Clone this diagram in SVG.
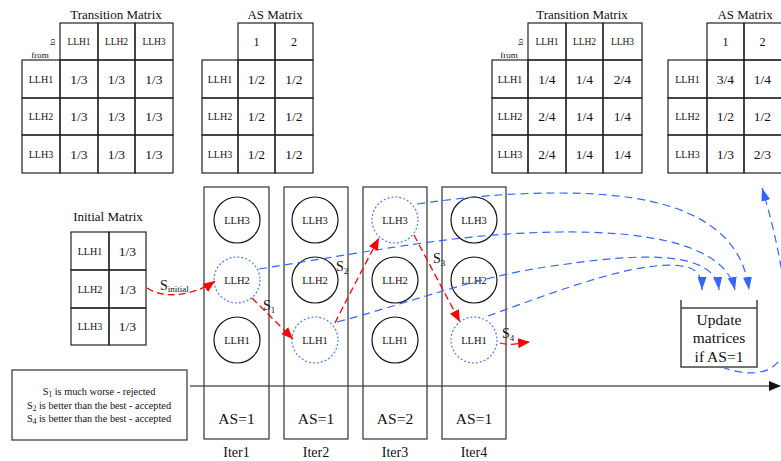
<svg xmlns="http://www.w3.org/2000/svg" width="781" height="461" viewBox="0 0 781 461">
<style>
.c{fill:none;stroke:#222;stroke-width:1.2}
.t{font-family:"Liberation Serif",serif;fill:#111}
.ttl{font-size:13px;text-anchor:middle}
.h{font-size:9.5px;text-anchor:middle}
.rl{font-size:10px;text-anchor:middle}
.f{font-family:"Liberation Serif",serif;font-size:13.5px;text-anchor:middle;fill:#111}
.circ{fill:none;stroke:#111;stroke-width:1.2}
.sel{fill:none;stroke:#4a7cff;stroke-width:1.2;stroke-dasharray:2,2}
.cl{font-size:10.5px;text-anchor:middle}
.blue{fill:none;stroke:#3366ff;stroke-width:1.2;stroke-dasharray:8,5}
.red{fill:none;stroke:#ff0000;stroke-width:1.3;stroke-dasharray:7,4}
.col{fill:none;stroke:#333;stroke-width:1.2}
.as{font-family:"Liberation Serif",serif;font-size:15.5px;text-anchor:middle;fill:#111}
.it{font-size:14px;text-anchor:middle}
.s{font-size:14px}
.sub{font-size:9px}
.lg{font-size:10.3px}
</style>
<defs>
<marker id="ar" markerUnits="userSpaceOnUse" viewBox="0 0 12 10" refX="12" refY="5" markerWidth="12" markerHeight="10" orient="auto"><path d="M0,0 L12,5 L0,10 z" fill="#ff0000"/></marker>
<marker id="ab" markerUnits="userSpaceOnUse" viewBox="0 0 13 9" refX="13" refY="4.5" markerWidth="13" markerHeight="9" orient="auto"><path d="M0,0 L13,4.5 L0,9 z" fill="#3366ff"/></marker>
</defs>

<g id="transition-matrix-1">
<text class="t ttl" x="116" y="19">Transition Matrix</text>
<rect class="c" x="60" y="23" width="38" height="37"/><rect class="c" x="98" y="23" width="37" height="37"/><rect class="c" x="135" y="23" width="38" height="37"/>
<rect class="c" x="22" y="60" width="38" height="38"/><rect class="c" x="60" y="60" width="38" height="38"/><rect class="c" x="98" y="60" width="37" height="38"/><rect class="c" x="135" y="60" width="38" height="38"/>
<rect class="c" x="22" y="98" width="38" height="37"/><rect class="c" x="60" y="98" width="38" height="37"/><rect class="c" x="98" y="98" width="37" height="37"/><rect class="c" x="135" y="98" width="38" height="37"/>
<rect class="c" x="22" y="135" width="38" height="38"/><rect class="c" x="60" y="135" width="38" height="38"/><rect class="c" x="98" y="135" width="37" height="38"/><rect class="c" x="135" y="135" width="38" height="38"/>
<text class="t" font-size="8.5" transform="translate(55,42) rotate(-90)" text-anchor="middle">to</text>
<text class="t" font-size="9" x="40" y="58" text-anchor="middle">from</text>
<text class="t h" x="79" y="45">LLH1</text><text class="t h" x="116.5" y="45">LLH2</text><text class="t h" x="154" y="45">LLH3</text>
<text class="t rl" x="41" y="83">LLH1</text><text class="t rl" x="41" y="120">LLH2</text><text class="t rl" x="41" y="158">LLH3</text>
<text class="f" x="79" y="84">1/3</text><text class="f" x="116.5" y="84">1/3</text><text class="f" x="154" y="84">1/3</text>
<text class="f" x="79" y="121">1/3</text><text class="f" x="116.5" y="121">1/3</text><text class="f" x="154" y="121">1/3</text>
<text class="f" x="79" y="159">1/3</text><text class="f" x="116.5" y="159">1/3</text><text class="f" x="154" y="159">1/3</text>
</g>

<g id="as-matrix-1">
<text class="t ttl" x="275" y="19">AS Matrix</text>
<rect class="c" x="238" y="23" width="37" height="37"/><rect class="c" x="275" y="23" width="38" height="37"/>
<rect class="c" x="202" y="60" width="36" height="38"/><rect class="c" x="238" y="60" width="37" height="38"/><rect class="c" x="275" y="60" width="38" height="38"/>
<rect class="c" x="202" y="98" width="36" height="37"/><rect class="c" x="238" y="98" width="37" height="37"/><rect class="c" x="275" y="98" width="38" height="37"/>
<rect class="c" x="202" y="135" width="36" height="38"/><rect class="c" x="238" y="135" width="37" height="38"/><rect class="c" x="275" y="135" width="38" height="38"/>
<text class="t" font-size="12" text-anchor="middle" x="256.5" y="46">1</text><text class="t" font-size="12" text-anchor="middle" x="294" y="46">2</text>
<text class="t rl" x="220" y="83">LLH1</text><text class="t rl" x="220" y="120">LLH2</text><text class="t rl" x="220" y="158">LLH3</text>
<text class="f" x="256.5" y="84">1/2</text><text class="f" x="294" y="84">1/2</text>
<text class="f" x="256.5" y="121">1/2</text><text class="f" x="294" y="121">1/2</text>
<text class="f" x="256.5" y="159">1/2</text><text class="f" x="294" y="159">1/2</text>
</g>

<g id="transition-matrix-2">
<text class="t ttl" x="582" y="19">Transition Matrix</text>
<rect class="c" x="528" y="23" width="38" height="37"/><rect class="c" x="566" y="23" width="37" height="37"/><rect class="c" x="603" y="23" width="39" height="37"/>
<rect class="c" x="492" y="60" width="36" height="38"/><rect class="c" x="528" y="60" width="38" height="38"/><rect class="c" x="566" y="60" width="37" height="38"/><rect class="c" x="603" y="60" width="39" height="38"/>
<rect class="c" x="492" y="98" width="36" height="37"/><rect class="c" x="528" y="98" width="38" height="37"/><rect class="c" x="566" y="98" width="37" height="37"/><rect class="c" x="603" y="98" width="39" height="37"/>
<rect class="c" x="492" y="135" width="36" height="38"/><rect class="c" x="528" y="135" width="38" height="38"/><rect class="c" x="566" y="135" width="37" height="38"/><rect class="c" x="603" y="135" width="39" height="38"/>
<text class="t" font-size="8.5" transform="translate(523,42) rotate(-90)" text-anchor="middle">to</text>
<text class="t" font-size="9" x="509" y="58" text-anchor="middle">from</text>
<text class="t h" x="547" y="45">LLH1</text><text class="t h" x="584.5" y="45">LLH2</text><text class="t h" x="622.5" y="45">LLH3</text>
<text class="t rl" x="510" y="83">LLH1</text><text class="t rl" x="510" y="120">LLH2</text><text class="t rl" x="510" y="158">LLH3</text>
<text class="f" x="547" y="84">1/4</text><text class="f" x="584.5" y="84">1/4</text><text class="f" x="622.5" y="84">2/4</text>
<text class="f" x="547" y="121">2/4</text><text class="f" x="584.5" y="121">1/4</text><text class="f" x="622.5" y="121">1/4</text>
<text class="f" x="547" y="159">2/4</text><text class="f" x="584.5" y="159">1/4</text><text class="f" x="622.5" y="159">1/4</text>
</g>

<g id="as-matrix-2">
<text class="t ttl" x="745" y="19">AS Matrix</text>
<rect class="c" x="707" y="23" width="37" height="37"/><rect class="c" x="744" y="23" width="38" height="37"/>
<rect class="c" x="668" y="60" width="39" height="38"/><rect class="c" x="707" y="60" width="37" height="38"/><rect class="c" x="744" y="60" width="38" height="38"/>
<rect class="c" x="668" y="98" width="39" height="37"/><rect class="c" x="707" y="98" width="37" height="37"/><rect class="c" x="744" y="98" width="38" height="37"/>
<rect class="c" x="668" y="135" width="39" height="38"/><rect class="c" x="707" y="135" width="37" height="38"/><rect class="c" x="744" y="135" width="38" height="38"/>
<text class="t" font-size="12" text-anchor="middle" x="725.5" y="46">1</text><text class="t" font-size="12" text-anchor="middle" x="762.5" y="46">2</text>
<text class="t rl" x="687.5" y="83">LLH1</text><text class="t rl" x="687.5" y="120">LLH2</text><text class="t rl" x="687.5" y="158">LLH3</text>
<text class="f" x="725.5" y="84">3/4</text><text class="f" x="762.5" y="84">1/4</text>
<text class="f" x="725.5" y="121">1/2</text><text class="f" x="762.5" y="121">1/2</text>
<text class="f" x="725.5" y="159">1/3</text><text class="f" x="762.5" y="159">2/3</text>
</g>

<g id="initial-matrix">
<text class="t ttl" x="108" y="221">Initial Matrix</text>
<rect class="c" x="71" y="232" width="38" height="38"/><rect class="c" x="109" y="232" width="37" height="38"/>
<rect class="c" x="71" y="270" width="38" height="38"/><rect class="c" x="109" y="270" width="37" height="38"/>
<rect class="c" x="71" y="308" width="38" height="37"/><rect class="c" x="109" y="308" width="37" height="37"/>
<text class="t rl" x="90" y="255">LLH1</text><text class="t rl" x="90" y="293">LLH2</text><text class="t rl" x="90" y="330">LLH3</text>
<text class="f" x="127.5" y="256">1/3</text><text class="f" x="127.5" y="294">1/3</text><text class="f" x="127.5" y="331">1/3</text>
</g>

<g id="timeline">
<line x1="190" y1="386" x2="771" y2="386" stroke="#111" stroke-width="1.2"/>
<path d="M769,381 L781,386 L769,391 z" fill="#111"/>
</g>

<g id="iter1">
<rect class="col" x="204" y="187" width="65" height="252"/>
<circle class="circ" cx="237" cy="220" r="23"/><text class="t cl" x="237" y="224">LLH3</text>
<circle class="sel" cx="237" cy="280" r="23"/><text class="t cl" x="237" y="284">LLH2</text>
<circle class="circ" cx="237" cy="340" r="23"/><text class="t cl" x="237" y="344">LLH1</text>
<text class="as" x="236.5" y="424">AS=1</text>
<text class="t it" x="236.5" y="457">Iter1</text>
</g>
<g id="iter2">
<rect class="col" x="284" y="187" width="64" height="252"/>
<circle class="circ" cx="315" cy="220" r="23"/><text class="t cl" x="315" y="224">LLH3</text>
<circle class="circ" cx="315" cy="280" r="23"/><text class="t cl" x="315" y="284">LLH2</text>
<circle class="sel" cx="315" cy="340" r="23"/><text class="t cl" x="315" y="344">LLH1</text>
<text class="as" x="316" y="424">AS=1</text>
<text class="t it" x="316" y="457">Iter2</text>
</g>
<g id="iter3">
<rect class="col" x="363" y="187" width="64" height="252"/>
<circle class="sel" cx="395" cy="220" r="23"/><text class="t cl" x="395" y="224">LLH3</text>
<circle class="circ" cx="395" cy="280" r="23"/><text class="t cl" x="395" y="284">LLH2</text>
<circle class="circ" cx="395" cy="340" r="23"/><text class="t cl" x="395" y="344">LLH1</text>
<text class="as" x="395" y="424">AS=2</text>
<text class="t it" x="395" y="457">Iter3</text>
</g>
<g id="iter4">
<rect class="col" x="442" y="187" width="64" height="252"/>
<circle class="circ" cx="474" cy="220" r="23"/><text class="t cl" x="474" y="224">LLH3</text>
<circle class="circ" cx="474" cy="280" r="23"/><text class="t cl" x="474" y="284">LLH2</text>
<circle class="sel" cx="474" cy="340" r="23"/><text class="t cl" x="474" y="344">LLH1</text>
<text class="as" x="474" y="424">AS=1</text>
<text class="t it" x="474" y="457">Iter4</text>
</g>

<g id="update">
<path d="M681,300 V367 H757 V300 M681,308 H757" fill="none" stroke="#444" stroke-width="1.5"/>
<text class="t" font-size="15.5" text-anchor="middle" x="719" y="325">Update</text>
<text class="t" font-size="15.5" text-anchor="middle" x="719" y="343">matrices</text>
<text class="t" font-size="15.5" text-anchor="middle" x="719" y="362">if AS=1</text>
</g>

<g id="legend">
<rect x="12" y="370" width="175" height="70" fill="none" stroke="#333" stroke-width="1.2"/>
<text class="t lg" x="99" y="395" text-anchor="middle">S<tspan font-size="7.5" dy="2">1</tspan><tspan dy="-2"> is much worse - rejected</tspan></text>
<text class="t lg" x="99" y="409" text-anchor="middle">S<tspan font-size="7.5" dy="2">2</tspan><tspan dy="-2"> is better than the best - accepted</tspan></text>
<text class="t lg" x="99" y="422" text-anchor="middle">S<tspan font-size="7.5" dy="2">4</tspan><tspan dy="-2"> is better than the best - accepted</tspan></text>
</g>

<g id="connectors">
<path class="blue" d="M417,204 C480,195 520,193 560,193 C660,193 740,215 749,290" marker-end="url(#ab)"/>
<path class="blue" d="M259,269 C380,250 460,233 560,232 C650,231 725,245 735,290" marker-end="url(#ab)"/>
<path class="blue" d="M337,322 C420,300 480,275 560,265 C640,253 715,250 719,290" marker-end="url(#ab)"/>
<path class="blue" d="M488,316 C560,290 650,255 690,268 C700,272 702,280 702,290" marker-end="url(#ab)"/>
<path class="blue" d="M722,367 C745,376 775,378 785,350 C792,310 778,240 762,188" marker-end="url(#ab)"/>
<path class="red" d="M147,288 C165,300 195,295 215,281" marker-end="url(#ar)"/>
<path class="red" d="M252,298 L293,339" marker-end="url(#ar)"/>
<path class="red" d="M335,323 Q354,285 379,238" marker-end="url(#ar)"/>
<path class="red" d="M414,235 L460,322" marker-end="url(#ar)"/>
<path class="red" d="M500,343 C510,346 520,343 530,342" marker-end="url(#ar)"/>
<text class="t s" x="160" y="290">S<tspan class="sub" dy="2">initial</tspan></text>
<text class="t s" x="263" y="310">S<tspan class="sub" dy="3">1</tspan></text>
<text class="t s" x="336" y="271">S<tspan class="sub" dy="3">2</tspan></text>
<text class="t s" x="433" y="263">S<tspan class="sub" dy="3">3</tspan></text>
<text class="t s" x="502" y="338">S<tspan class="sub" dy="3">4</tspan></text>
</g>
</svg>
